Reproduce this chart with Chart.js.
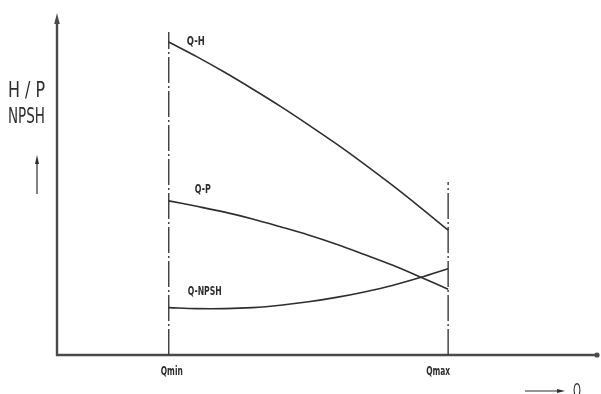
<!DOCTYPE html>
<html>
<head>
<meta charset="utf-8">
<script src="https://cdn.jsdelivr.net/npm/chart.js@4/dist/chart.umd.min.js"></script>
<style>
  html, body { margin: 0; padding: 0; background: #fff; }
  #wrap { width: 601px; height: 394px; position: relative; }
</style>
</head>
<body>
<div id="wrap"><canvas id="c" width="601" height="394"></canvas></div>
<script>
// Flow rate (Q) sample points between Qmin and Qmax
const qValues = [20, 25, 30, 35, 40, 45, 50, 55, 60, 65, 70];
// Head curve Q-H
const headValues = [91.8, 87.5, 82.9, 78.0, 72.9, 67.5, 61.9, 56.0, 49.8, 43.3, 36.6];
// Power curve Q-P
const powerValues = [45.2, 43.6, 41.9, 39.9, 37.6, 35.2, 32.5, 29.5, 26.4, 22.9, 19.3];
// NPSH curve Q-NPSH
const npshValues = [13.9, 13.6, 13.6, 13.9, 14.6, 15.6, 16.9, 18.5, 20.4, 22.7, 25.3];
// Operating limits
const limitLabels = ['Qmin', 'Qmax'];
const limitQ = [20, 70];
const limitTop = [94.7, 50.7];
const curveLabels = ['Q-H', 'Q-P', 'Q-NPSH'];

const INK = '#2e2e2e';
const FONT = '"Liberation Sans Narrow", "DejaVu Sans Condensed", sans-serif';

function toPoints(ys) { return qValues.map((q, i) => ({ x: q, y: ys[i] })); }

function curve(label, ys) {
  return {
    label, data: toPoints(ys), showLine: true, borderColor: INK, borderWidth: 1.6,
    pointRadius: 0, tension: 0.35, fill: false
  };
}

function limitLine(i) {
  return {
    label: limitLabels[i],
    data: [{ x: limitQ[i], y: 0 }, { x: limitQ[i], y: limitTop[i] }],
    showLine: true, borderColor: '#3a3a3a', borderWidth: 1.4,
    borderDash: [26, 3, 2, 3], pointRadius: 0, fill: false
  };
}

// Draws text squeezed horizontally to a given width (narrow drafting lettering)
function narrowText(ctx, text, x, y, size, width, align, weight) {
  ctx.font = (weight || '') + ' ' + size + 'px ' + FONT;
  const w = ctx.measureText(text).width;
  ctx.save();
  ctx.translate(x, y);
  ctx.scale(width / w, 1);
  ctx.textAlign = align || 'left';
  ctx.textBaseline = 'alphabetic';
  ctx.fillStyle = INK;
  ctx.fillText(text, 0, 0);
  ctx.restore();
}

function arrowHead(ctx, x, y, dir, len, half) {
  ctx.beginPath();
  if (dir === 'up') {
    ctx.moveTo(x, y); ctx.lineTo(x - half, y + len); ctx.lineTo(x + half, y + len);
  } else {
    ctx.moveTo(x, y); ctx.lineTo(x - len, y - half); ctx.lineTo(x - len, y + half);
  }
  ctx.closePath();
  ctx.fill();
}

const diagramPlugin = {
  id: 'diagram',
  beforeDatasetsDraw(chart) {
    const { ctx, chartArea: a } = chart;
    ctx.save();
    ctx.strokeStyle = '#4a4a4a';
    ctx.fillStyle = '#4a4a4a';
    ctx.lineWidth = 2.4;
    // Vertical axis with arrow
    ctx.beginPath();
    ctx.moveTo(a.left, a.bottom + 1);
    ctx.lineTo(a.left, a.top + 6);
    ctx.stroke();
    arrowHead(ctx, a.left, a.top - 1, 'up', 11, 2.8);
    // Horizontal axis with end dot
    ctx.beginPath();
    ctx.moveTo(a.left - 1, a.bottom);
    ctx.lineTo(a.right - 2, a.bottom);
    ctx.stroke();
    ctx.beginPath();
    ctx.arc(a.right - 2, a.bottom, 2.6, 0, Math.PI * 2);
    ctx.fill();
    ctx.restore();
  },
  afterDatasetsDraw(chart) {
    const { ctx } = chart;
    const xs = chart.scales.x, ys = chart.scales.y;
    ctx.save();
    // Axis captions
    narrowText(ctx, 'H / P', 8, 97, 21, 37);
    narrowText(ctx, 'NPSH', 8, 123, 21, 37);
    ctx.strokeStyle = INK; ctx.fillStyle = INK; ctx.lineWidth = 1.2;
    ctx.beginPath(); ctx.moveTo(37, 194); ctx.lineTo(37, 162); ctx.stroke();
    arrowHead(ctx, 37, 155, 'up', 9, 2);
    ctx.beginPath(); ctx.moveTo(525, 391); ctx.lineTo(558, 391); ctx.stroke();
    arrowHead(ctx, 565, 391, 'right', 8, 2);
    narrowText(ctx, 'Q', 573, 397, 20, 8);

    // Curve labels next to the start of each curve
    const series = [headValues, powerValues, npshValues];
    const offsets = [[18, 3, 18], [26, -8, 16], [19, -13, 34]];
    series.forEach((vals, i) => {
      const px = xs.getPixelForValue(qValues[0]);
      const py = ys.getPixelForValue(vals[0]);
      narrowText(ctx, curveLabels[i], px + offsets[i][0], py + offsets[i][1], 12, offsets[i][2], 'left', 'bold');
    });

    // Limit labels under the horizontal axis
    const limitShift = [3, -10];
    const limitWidth = [22, 24];
    limitQ.forEach((q, i) => {
      const px = xs.getPixelForValue(q);
      narrowText(ctx, limitLabels[i], px + limitShift[i], ys.getPixelForValue(0) + 20, 12, limitWidth[i], 'center', 'bold');
    });
    ctx.restore();
  }
};

new Chart(document.getElementById('c'), {
  type: 'scatter',
  data: {
    datasets: [
      curve(curveLabels[0], headValues),
      curve(curveLabels[1], powerValues),
      curve(curveLabels[2], npshValues),
      limitLine(0),
      limitLine(1)
    ]
  },
  options: {
    responsive: false,
    animation: false,
    devicePixelRatio: 1,
    layout: { padding: { left: 57, right: 2, top: 14, bottom: 39 } },
    plugins: { legend: { display: false }, tooltip: { enabled: false } },
    clip: false,
    scales: {
      x: { type: 'linear', min: 0, max: 97, display: false },
      y: { type: 'linear', min: 0, max: 100, display: false }
    }
  },
  plugins: [diagramPlugin]
});
</script>
</body>
</html>
